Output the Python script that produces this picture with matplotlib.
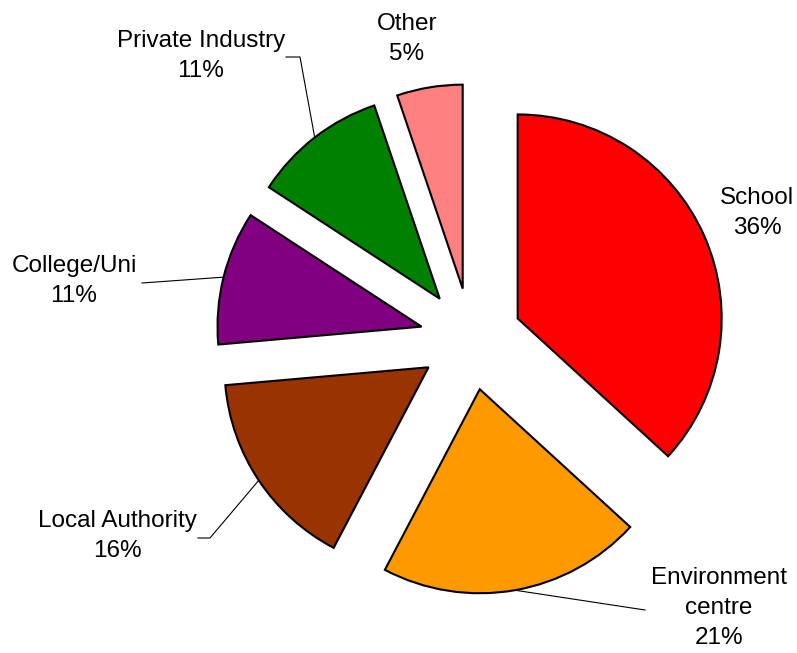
import numpy as np
import matplotlib
matplotlib.use("Agg")
import matplotlib.pyplot as plt

# data
categories = ["School", "Environment\ncentre", "Local Authority", "College/Uni", "Private Industry", "Other"]
shares = [36.8, 20.9, 15.9, 10.6, 10.6, 5.2]   # slice sizes as drawn
pct_labels = ["36%", "21%", "16%", "11%", "11%", "5%"]  # labels as printed on the chart
colors = ["#FF0000", "#FF9900", "#993300", "#800080", "#008000", "#FF8080"]

W, H = 797, 653
CX, CY, R = 471, 339, 204  # pie centre and radius in pixels


def px2d(px, py):  # pixel -> data coords
    return (px - CX) / R, (CY - py) / R


# label centres and leader-line points (pixels), None = no line
label_pos = [(757, 213), (719, 608), (117, 536), (74, 281), (201, 56), (407, 39)]
leader = [
    None,
    [(645, 610)],
    [(210, 538), (198, 538)],
    [(142, 283)],
    [(300, 57), (286, 57)],
    None,
]

plt.rcParams['font.family'] = ['Liberation Sans', 'DejaVu Sans']
fig = plt.figure(figsize=(W / 100, H / 100), dpi=100)
ax = fig.add_axes([0, 0, 1, 1])

wedges, _ = ax.pie(shares, colors=colors, explode=[0.25] * len(shares),
                   startangle=90, counterclock=False,
                   wedgeprops=dict(edgecolor="black", linewidth=1.5))

for w, cat, lab, lp, pts in zip(wedges, categories, pct_labels, label_pos, leader):
    x, y = px2d(*lp)
    ax.text(x, y, f"{cat}\n{lab}", ha="center", va="center",
            fontsize=17.5, linespacing=1.5, color="black")
    if pts is None:
        continue
    mid = np.deg2rad((w.theta1 + w.theta2) / 2)
    sx = w.center[0] + w.r * np.cos(mid)
    sy = w.center[1] + w.r * np.sin(mid)
    xs = [sx] + [px2d(*p)[0] for p in pts]
    ys = [sy] + [px2d(*p)[1] for p in pts]
    ax.plot(xs, ys, color="black", linewidth=0.8)

ax.set_xlim(-CX / R, (W - CX) / R)
ax.set_ylim(-(H - CY) / R, CY / R)
ax.axis("off")

fig.savefig("out.png", dpi=100)
